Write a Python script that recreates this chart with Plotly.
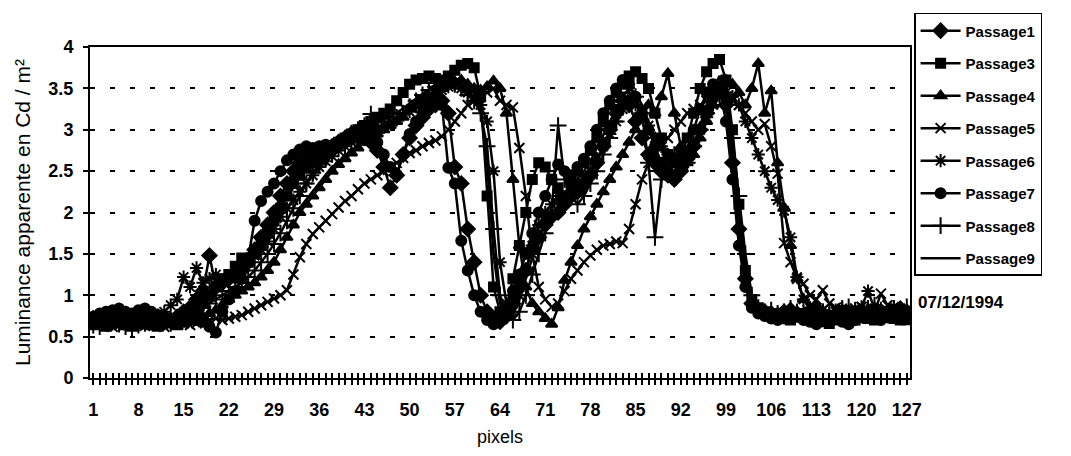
import plotly.graph_objects as go

pixels = list(range(1, 128))
tick_labels = list(range(1, 128, 7))
y_ticks = [0, 0.5, 1, 1.5, 2, 2.5, 3, 3.5, 4]

passage1 = [
    0.72, 0.70, 0.75, 0.78, 0.80, 0.76, 0.74, 0.78, 0.72, 0.70,
    0.68, 0.72, 0.70, 0.74, 0.80, 0.85, 0.95, 1.05, 1.48, 1.10,
    1.15, 1.20, 1.25, 1.30, 1.40, 1.55, 1.70, 1.85, 2.00, 2.20,
    2.35, 2.50, 2.60, 2.65, 2.70, 2.72, 2.75, 2.80, 2.85, 2.90,
    2.95, 2.92, 2.90, 2.85, 2.75, 2.55, 2.30, 2.45, 2.70, 2.90,
    3.05, 3.15, 3.25, 3.30, 3.35, 3.20, 2.55, 2.35, 1.80, 1.40,
    1.00, 0.80, 0.72, 0.68, 0.75, 0.90, 1.10, 1.30, 1.55, 1.70,
    1.85, 1.95, 2.00, 2.10, 2.20, 2.25, 2.35, 2.45, 2.60, 2.80,
    3.00, 3.20, 3.35, 3.30, 3.10, 2.90, 2.70, 2.60, 2.50, 2.45,
    2.40, 2.50, 2.65, 2.80, 3.00, 3.20, 3.40, 3.50, 3.30, 2.60,
    1.80, 1.20, 0.90, 0.82, 0.80, 0.78, 0.76, 0.80, 0.82, 0.78,
    0.75, 0.80, 0.84, 0.78, 0.72, 0.76, 0.80, 0.78, 0.74, 0.76,
    0.80, 0.82, 0.78, 0.76, 0.80, 0.84, 0.80,
]
passage3 = [
    0.68, 0.70, 0.72, 0.70, 0.74, 0.72, 0.70, 0.68, 0.66, 0.70,
    0.72, 0.70, 0.68, 0.72, 0.75, 0.78, 0.82, 0.90, 1.00, 1.10,
    1.20, 1.25, 1.35, 1.45, 1.40, 1.50, 1.60, 1.75, 1.90, 2.05,
    2.20, 2.35, 2.45, 2.55, 2.60, 2.68, 2.75, 2.80, 2.85, 2.90,
    2.95, 3.00, 3.05, 3.10, 3.15, 3.20, 3.25, 3.35, 3.45, 3.55,
    3.60, 3.62, 3.65, 3.62, 3.60, 3.65, 3.72, 3.78, 3.80, 3.75,
    3.40, 2.20, 1.10, 0.80, 0.85, 1.20, 1.60, 2.00, 2.40, 2.60,
    2.55, 2.40, 2.30, 2.20, 2.35, 2.50, 2.60, 2.75, 2.90, 3.10,
    3.30, 3.45, 3.55, 3.65, 3.70, 3.62, 3.50, 3.20, 2.90, 2.70,
    2.60, 2.70, 2.90, 3.20, 3.50, 3.70, 3.80, 3.85, 3.60, 3.00,
    2.10, 1.30, 0.95, 0.85, 0.80, 0.78, 0.75, 0.72, 0.70, 0.74,
    0.78, 0.72, 0.70, 0.68, 0.66, 0.70, 0.72, 0.68, 0.70, 0.74,
    0.72, 0.70, 0.76, 0.74, 0.72, 0.70, 0.72,
]
passage4 = [
    0.62, 0.65, 0.60, 0.64, 0.66, 0.62, 0.60, 0.63, 0.65, 0.62,
    0.60, 0.64, 0.66, 0.62, 0.65, 0.68, 0.70, 0.74, 0.78, 0.82,
    0.88, 0.95, 1.00, 1.05, 1.10, 1.15, 1.22, 1.30, 1.40, 1.55,
    1.70, 1.85, 2.00, 2.10, 2.20, 2.30, 2.40, 2.50, 2.58, 2.65,
    2.72, 2.78, 2.85, 2.90, 2.95, 3.00, 3.05, 3.10, 3.15, 3.25,
    3.30, 3.35, 3.40, 3.45, 3.50, 3.55, 3.58, 3.60, 3.55, 3.50,
    3.48, 3.52, 3.59, 3.50, 3.20, 2.40, 1.60, 1.10, 0.90, 0.80,
    0.72, 0.65, 0.85, 1.18, 1.40, 1.60, 1.80, 1.95, 2.10, 2.25,
    2.40, 2.55, 2.70, 2.85, 3.00, 3.15, 3.30, 3.20, 3.40, 3.68,
    3.20, 2.80, 2.60, 2.70, 2.90, 3.10, 3.30, 3.50, 3.60, 3.55,
    3.45, 3.30, 3.50, 3.80, 3.20, 3.47, 2.60, 2.06, 1.60, 1.20,
    0.95, 0.85, 0.80, 0.78, 0.76, 0.74, 0.72, 0.75, 0.78, 0.74,
    0.70, 0.72, 0.75, 0.78, 0.74, 0.70, 0.68,
]
passage5 = [
    0.66, 0.68, 0.65, 0.62, 0.64, 0.66, 0.68, 0.65, 0.63, 0.66,
    0.64, 0.62, 0.65, 0.68, 0.66, 0.64, 0.66, 0.68, 0.70, 0.72,
    0.70, 0.72, 0.74, 0.76, 0.80, 0.84, 0.88, 0.92, 0.96, 1.00,
    1.06, 1.25, 1.46, 1.62, 1.74, 1.82, 1.90, 1.98, 2.06, 2.14,
    2.20, 2.28, 2.35, 2.40, 2.45, 2.50, 2.54, 2.60, 2.66, 2.72,
    2.75, 2.80, 2.84, 2.87, 2.92, 3.00, 3.10, 3.20, 3.30, 3.35,
    3.40, 3.45, 3.50, 3.35, 3.30, 3.27, 2.78, 2.20, 1.50, 1.10,
    0.95, 0.86, 0.90, 1.05, 1.20, 1.30, 1.40, 1.48, 1.55, 1.60,
    1.62, 1.65, 1.63, 1.80, 2.10, 2.40, 2.60, 2.70, 2.80, 2.90,
    3.00, 3.10, 3.20, 3.25, 3.30, 3.35, 3.40, 3.45, 3.40, 3.35,
    3.30, 3.20, 3.10, 3.00, 3.07, 2.80, 2.47, 1.63, 1.40, 1.20,
    1.14, 1.00, 0.95, 1.06, 0.90, 0.85, 0.82, 0.80, 0.84, 0.86,
    0.82, 0.80, 1.02, 0.88, 0.84, 0.80, 0.82,
]
passage6 = [
    0.70, 0.72, 0.74, 0.70, 0.68, 0.72, 0.75, 0.74, 0.70, 0.72,
    0.76, 0.80, 0.88, 0.95, 1.22, 1.10, 1.33, 1.15, 1.20, 1.25,
    1.18, 1.22, 1.30, 1.35, 1.40, 1.48, 1.55, 1.65, 1.80, 1.95,
    2.05, 2.15, 2.25, 2.35, 2.45, 2.55, 2.62, 2.68, 2.75, 2.80,
    2.85, 2.88, 2.92, 2.95, 3.00, 3.05, 3.10, 3.12, 3.18, 3.22,
    3.28, 3.32, 3.38, 3.42, 3.48, 3.52, 3.55, 3.50, 3.45, 3.40,
    3.30, 3.10, 2.50, 1.40, 0.90, 0.80, 1.00, 1.30, 1.60, 1.85,
    2.00, 2.10, 2.20, 2.15, 2.25, 2.35, 2.40, 2.50, 2.65, 2.80,
    2.95, 3.10, 3.25, 3.35, 3.30, 3.20, 3.05, 2.90, 2.80, 2.70,
    2.65, 2.60, 2.70, 2.85, 3.00, 3.15, 3.30, 3.40, 3.45, 3.40,
    3.30, 3.10, 2.90, 2.70, 2.50, 2.30, 2.15, 2.02, 1.70, 1.22,
    0.95, 0.85, 0.80, 0.82, 0.78, 0.80, 0.84, 0.80, 0.82, 0.86,
    1.05, 0.84, 0.80, 0.82, 0.86, 0.84, 0.80,
]
passage7 = [
    0.74, 0.78, 0.80, 0.82, 0.84, 0.80, 0.78, 0.82, 0.84, 0.80,
    0.76, 0.74, 0.72, 0.70, 0.72, 0.74, 0.70, 0.68, 0.62, 0.55,
    0.80, 0.95, 1.05, 1.20, 1.45, 1.90, 2.14, 2.25, 2.35, 2.50,
    2.63, 2.70, 2.76, 2.80, 2.78, 2.80, 2.82, 2.80, 2.85, 2.90,
    2.95, 3.00, 2.98, 2.95, 2.85, 2.70, 2.55, 2.46, 2.70, 2.95,
    3.10, 3.20, 3.28, 3.35, 3.30, 2.54, 2.35, 1.66, 1.30, 1.00,
    0.80, 0.70, 0.65, 0.70, 0.85, 1.05, 1.25, 1.50, 1.75, 2.00,
    2.20, 2.40, 2.58, 2.50, 2.45, 2.55, 2.65, 2.80, 3.00, 3.20,
    3.35, 3.50, 3.60, 3.55, 3.40, 3.20, 3.00, 2.80, 2.60, 2.50,
    2.45, 2.55, 2.75, 3.00, 3.25, 3.45, 3.55, 3.50, 3.10, 2.40,
    1.60, 1.10, 0.85, 0.78, 0.75, 0.72, 0.70, 0.72, 0.76, 0.74,
    0.70, 0.68, 0.65, 0.70, 0.74, 0.72, 0.68, 0.65, 0.70, 0.74,
    0.76, 0.72, 0.70, 0.74, 0.78, 0.76, 0.74,
]
passage8 = [
    0.64, 0.62, 0.66, 0.68, 0.65, 0.62, 0.60, 0.64, 0.66, 0.68,
    0.70, 0.68, 0.66, 0.70, 0.74, 0.78, 0.82, 0.86, 0.90, 0.95,
    1.00, 1.05, 1.10, 1.15, 1.22, 1.30, 1.40, 1.50, 1.62, 1.75,
    1.90, 2.05, 2.20, 2.35, 2.48, 2.58, 2.66, 2.74, 2.82, 2.90,
    2.96, 3.00, 3.05, 3.19, 3.02, 3.05, 3.10, 3.15, 3.20, 3.28,
    3.35, 3.42, 3.48, 3.52, 3.55, 3.58, 3.55, 3.50, 3.42, 3.35,
    3.20, 2.80, 1.80, 1.00, 0.75, 0.70, 0.80, 1.00, 1.25, 1.50,
    1.75, 2.00, 3.05, 2.40, 2.20, 2.10, 2.20, 2.35, 2.50, 2.70,
    2.90, 3.10, 3.30, 3.45, 3.40, 3.20, 2.60, 1.70, 2.40, 2.60,
    2.70, 2.55, 2.60, 2.80, 3.00, 3.20, 3.40, 3.55, 3.40, 2.90,
    2.20, 1.50, 1.00, 0.85, 0.80, 0.82, 0.78, 0.80, 0.84, 0.80,
    0.78, 0.82, 0.85, 0.80, 0.78, 0.80, 0.84, 0.86, 0.82, 0.80,
    0.84, 0.88, 0.82, 0.80, 0.84, 0.82, 0.86,
]
passage9 = [
    0.70, 0.68, 0.70, 0.72, 0.70, 0.68, 0.66, 0.70, 0.72, 0.70,
    0.68, 0.66, 0.70, 0.72, 0.76, 0.80, 0.86, 0.92, 1.00, 1.08,
    1.12, 1.18, 1.25, 1.32, 1.40, 1.50, 1.62, 1.76, 1.90, 2.05,
    2.18, 2.30, 2.42, 2.52, 2.60, 2.66, 2.72, 2.78, 2.84, 2.88,
    2.92, 2.96, 3.00, 3.05, 3.08, 3.12, 3.16, 3.20, 3.26, 3.32,
    3.38, 3.44, 3.50, 3.55, 3.58, 3.60, 3.62, 3.60, 3.55, 3.45,
    3.25, 2.60, 1.50, 0.90, 0.75, 0.78, 0.95, 1.20, 1.45, 1.70,
    1.90, 2.05, 2.15, 2.25, 2.30, 2.40, 2.50, 2.62, 2.78, 2.95,
    3.10, 3.25, 3.40, 3.50, 3.45, 3.30, 3.10, 2.90, 2.75, 2.65,
    2.55, 2.50, 2.60, 2.80, 3.05, 3.30, 3.50, 3.65, 3.50, 2.80,
    1.90, 1.20, 0.90, 0.80, 0.78, 0.76, 0.74, 0.78, 0.80, 0.76,
    0.74, 0.76, 0.78, 0.74, 0.72, 0.74, 0.78, 0.80, 0.76, 0.74,
    0.78, 0.80, 0.76, 0.74, 0.78, 0.80, 0.76,
]

series = [
    ("Passage1", passage1, "diamond", 11),
    ("Passage3", passage3, "square", 9),
    ("Passage4", passage4, "triangle-up", 10),
    ("Passage5", passage5, "x-thin-open", 10),
    ("Passage6", passage6, "asterisk-open", 11),
    ("Passage7", passage7, "circle", 10),
    ("Passage8", passage8, "cross-thin-open", 12),
    ("Passage9", passage9, None, 0),
]

BOLD = "Liberation Sans, Arial, sans-serif"
REG = "Liberation Sans, Arial, sans-serif"

fig = go.Figure()
for name, vals, sym, size in series:
    if sym is None:
        fig.add_trace(go.Scatter(
            x=pixels, y=vals, name=name, mode="lines",
            line=dict(color="black", width=2.5), legendgroup=name))
    else:
        fig.add_trace(go.Scatter(
            x=pixels, y=vals, name=name, mode="lines+markers",
            line=dict(color="black", width=2.5),
            marker=dict(symbol=sym, size=size, color="black",
                        line=dict(color="black", width=2)),
            legendgroup=name))

axis_font = dict(family=BOLD, size=18, color="black", weight="bold")

fig.update_layout(
    width=1071, height=456,
    margin=dict(l=82, r=169, t=39, b=86, autoexpand=False),
    paper_bgcolor="white", plot_bgcolor="white",
    font=dict(family=REG, color="black"),
    xaxis=dict(
        range=[0.5, 127.5], showgrid=False, zeroline=False,
        showline=True, linecolor="black", linewidth=2, mirror=True,
        tickmode="array", tickvals=pixels,
        ticktext=[str(p) if p in tick_labels else "" for p in pixels],
        ticks="outside", ticklen=5, tickwidth=1.5, tickcolor="black",
        tickfont=axis_font, ticklabelstandoff=9,
        title=dict(text="pixels", font=dict(family=REG, size=18, color="black"),
                   standoff=12),
    ),
    xaxis2=dict(
        overlaying="x", matches="x", anchor="y", side="bottom",
        showgrid=False, zeroline=False, showline=False,
        tickmode="array", tickvals=pixels, showticklabels=False,
        ticks="inside", ticklen=5, tickwidth=1.5, tickcolor="black",
    ),
    yaxis=dict(
        range=[0, 4], tickvals=y_ticks,
        ticktext=["0", "0.5", "1", "1.5", "2", "2.5", "3", "3.5", "4"],
        showgrid=True, gridcolor="black", gridwidth=2, griddash="5px,15px",
        zeroline=False, showline=True, linecolor="black", linewidth=2, mirror=True,
        ticks="outside", ticklen=5, tickwidth=1.5, tickcolor="black",
        tickfont=axis_font, ticklabelstandoff=6,
        title=dict(text="Luminance apparente en Cd / m²",
                   font=dict(family=REG, size=21, color="black"), standoff=12),
    ),
    legend=dict(
        x=1.005, y=1.103, xanchor="left", yanchor="top",
        bordercolor="black", borderwidth=1.5, bgcolor="white",
        font=dict(family=BOLD, size=15, color="black", weight="bold"),
        tracegroupgap=10, itemwidth=40, maxheight=440,
    ),
    annotations=[dict(
        text="07/12/1994", xref="paper", yref="paper", x=1.062, y=0.2296,
        xanchor="center", yanchor="middle", showarrow=False,
        font=dict(family=BOLD, size=17, color="black", weight="bold"),
    )],
)
# dummy trace for the overlaid axis carrying inner tick marks
fig.add_trace(go.Scatter(x=[pixels[0]], y=[None], xaxis="x2", showlegend=False,
                         hoverinfo="skip"))

fig.write_html("out.html")
